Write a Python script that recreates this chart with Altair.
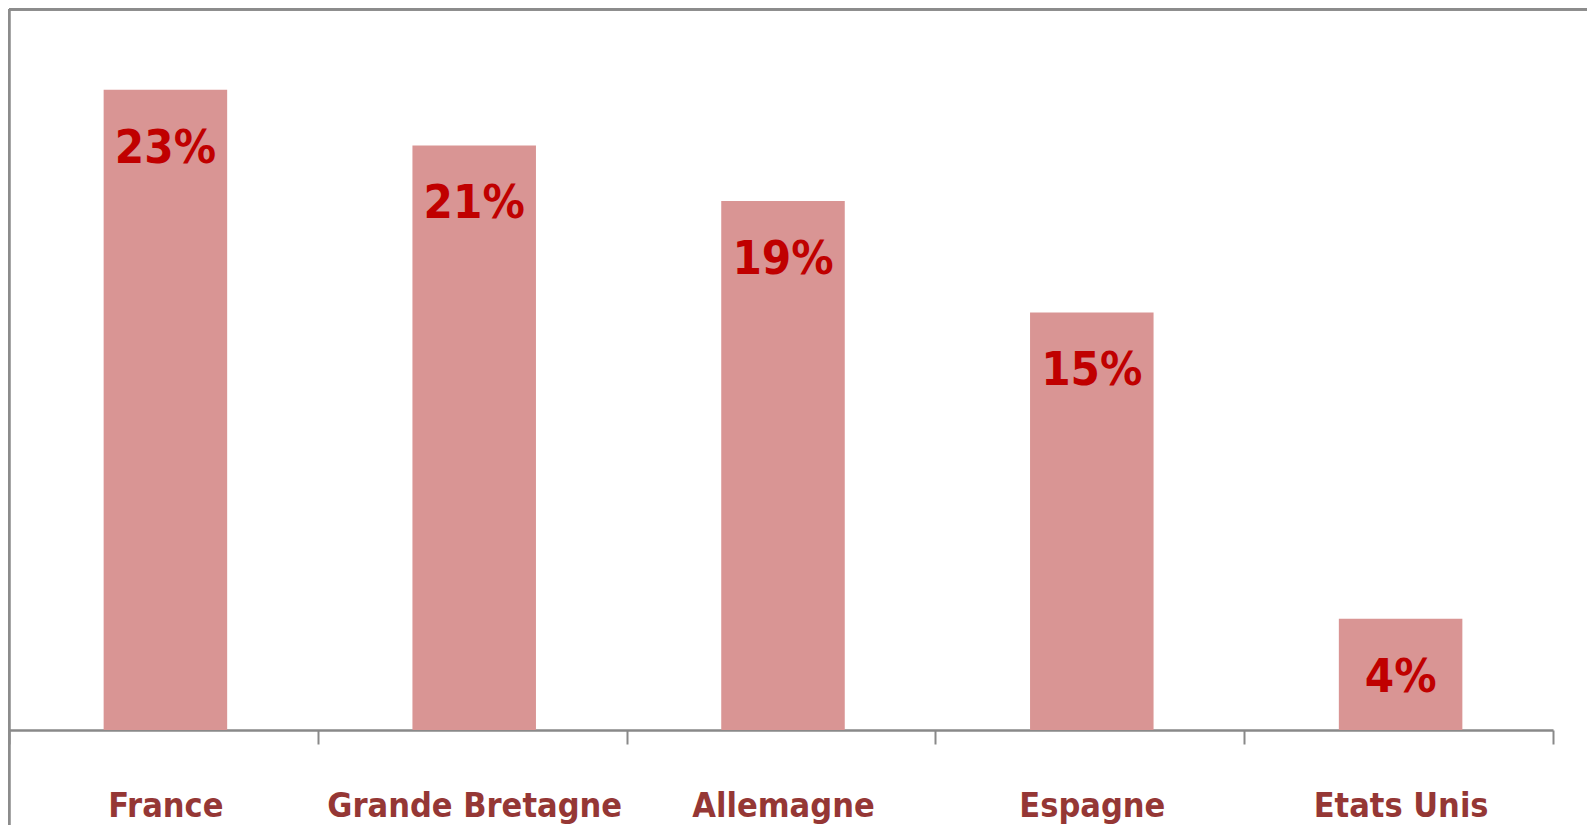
import altair as alt
import pandas as pd

countries = ["France", "Grande Bretagne", "Allemagne", "Espagne", "Etats Unis"]
values = [23, 21, 19, 15, 4]

df = pd.DataFrame({"pays": countries, "v": values})

W, H = 1544, 721
FONT = "'Liberation Sans Narrow', 'DejaVu Sans Condensed', 'Roboto Condensed', 'Liberation Sans', sans-serif"

base = alt.Chart(df)

xenc = alt.X(
    "pays:N",
    sort=countries,
    scale=alt.Scale(paddingInner=0, paddingOuter=0),
    axis=alt.Axis(
        title=None,
        tickBand="extent",
        tickSize=14,
        tickWidth=2,
        tickColor="#898989",
        domainColor="#898989",
        domainWidth=2.5,
        labelFont=FONT,
        labelFontSize=34,
        labelFontWeight="bold",
        labelColor="#953735",
        labelBaseline="alphabetic",
        labelPadding=72,
        labelLimit=0,
        labelAngle=0,
        labelOffset=2,
    ),
)
yenc = alt.Y("v:Q", scale=alt.Scale(domain=[0, 25.9], nice=False), axis=None)

bars = base.mark_bar(color="#D99594", width=alt.RelativeBandSize(0.4), xOffset=2).encode(x=xenc, y=yenc)

labels = base.transform_calculate(lab="datum.v + '%'").mark_text(
    color="#C00000",
    font=FONT,
    fontSize=47,
    fontWeight="bold",
    baseline="alphabetic",
    align="center",
    dy=73,
    dx=2,
).encode(x=alt.X("pays:N", sort=countries), y=yenc, text="lab:N")

left_frame = base.mark_rule(color="#8C8C8C", strokeWidth=2.5).encode(
    x=alt.value(0), y=alt.value(0), y2=alt.value(900)
)
top_frame = base.mark_rule(color="#8C8C8C", strokeWidth=3).encode(
    x=alt.value(0), x2=alt.value(1700), y=alt.value(0)
)

chart = (
    alt.layer(bars, labels, left_frame, top_frame)
    .properties(
        width=W,
        height=H,
        autosize=alt.AutoSizeParams(type="none"),
        padding={"left": 1, "top": 1, "right": 34, "bottom": 95},
    )
    .configure_view(stroke="transparent")
)

chart.save("out.html", embed_options={"renderer": "svg", "actions": False})
